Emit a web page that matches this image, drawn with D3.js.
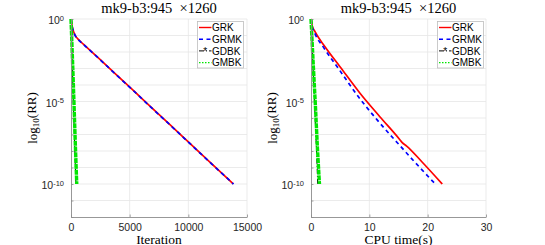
<!DOCTYPE html>
<html>
<head>
<meta charset="utf-8">
<script src="https://cdn.jsdelivr.net/npm/d3@7"></script>
<style>
body { margin: 0; background: #fff; }
.tick text { font-family: "Liberation Sans", Arial, sans-serif; font-size: 10.5px; fill: #262626; }
.ttl, .lbl { font-family: "Liberation Serif", "Times New Roman", serif; fill: #000; }
.leg text { font-family: "Liberation Sans", Arial, sans-serif; font-size: 10px; fill: #000; }
</style>
</head>
<body>
<svg id="chart" width="545" height="245"></svg>
<script>
//series names and titles
let names = ['GRK', 'GRMK', 'GDBK', 'GMBK'];
let titleText = 'mk9-b3:945\u00a0 \u00d71260';

//left panel: [iteration, log10(RR)]
let grkIter  = [[0,0],[60,-0.3],[150,-0.6],[340,-0.97],[600,-1.22],[1050,-1.52],[2470,-2.45],[3900,-3.4],[5310,-4.33],[6730,-5.28],[8500,-6.45],[10000,-7.45],[12000,-8.78],[13830,-10]];
let grmkIter = [[0,0],[60,-0.31],[150,-0.61],[340,-0.98],[600,-1.23],[1050,-1.53],[2470,-2.46],[3900,-3.41],[5310,-4.34],[6730,-5.29],[8500,-6.46],[10000,-7.46],[12000,-8.79],[13850,-10]];
let gdbkIter = [[0,0],[100,-2.5],[210,-5.3],[320,-7.8],[420,-10]];
let gmbkIter = [[0,0],[130,-2.5],[260,-5.2],[380,-7.8],[490,-10]];

//right panel: [CPU time (s), log10(RR)]
let grkTime  = [[0,0],[0.2,-0.4],[0.69,-0.77],[2.4,-1.68],[4.97,-2.89],[8.4,-4.5],[11.8,-5.92],[15.2,-7.3],[15.6,-7.48],[16.4,-7.7],[19,-8.65],[22.5,-10]];
let grmkTime = [[0,0],[0.2,-0.45],[0.7,-0.9],[2.3,-1.8],[4.8,-3.05],[8.1,-4.7],[11.3,-6.1],[14.8,-7.5],[18,-8.75],[21.3,-10]];
let gdbkTime = [[0,0],[0.3,-2.5],[0.65,-5.5],[0.95,-8],[1.15,-10]];
let gmbkTime = [[0,0],[0.35,-2.5],[0.75,-5.2],[1.1,-7.8],[1.45,-10]];

//axis ticks
let iterTicks = [0, 5000, 10000, 15000];
let timeTicks = [0, 10, 20, 30];
let yExp = [-12,-11,-10,-9,-8,-7,-6,-5,-4,-3,-2,-1,0];
let yLabelExp = [0, -5, -10];

//line styles
let styles = [
  {color:'#ff0000', width:1.7, dash:null},
  {color:'#0000ff', width:1.7, dash:'4,3.5'},
  {color:'#000000', width:1, dash:'5,2,1,2'},
  {color:'#00e600', width:3.4, dash:'5,0.8'}
];

let svg = d3.select('#chart');
let plotTop = 19, plotBottom = 217;

let drawPanel = function(px0, px1, xDomain, xTicks, xLabel, series, legX) {
  let x = d3.scaleLinear().domain(xDomain).range([px0, px1]);
  let y = d3.scaleLog().domain([1e-12, 1]).range([plotBottom, plotTop]);
  let g = svg.append('g');

  //grid
  g.append('g').selectAll('line').data(xTicks.slice(1)).join('line')
    .attr('x1', d => x(d)).attr('x2', d => x(d))
    .attr('y1', plotTop).attr('y2', plotBottom)
    .attr('stroke', '#e6e6e6').attr('stroke-width', 0.8);
  g.append('g').selectAll('line').data(yExp.slice(1)).join('line')
    .attr('x1', px0).attr('x2', px1)
    .attr('y1', d => y(Math.pow(10, d))).attr('y2', d => y(Math.pow(10, d)))
    .attr('stroke', '#e6e6e6').attr('stroke-width', 0.8);

  //lines
  series.forEach(function(s, i) {
    let line = d3.line()
      .x(d => x(d[0]))
      .y(d => y(Math.pow(10, d[1])))
      .curve(i < 2 ? d3.curveMonotoneX : d3.curveLinear);
    g.append('path')
      .datum(s)
      .attr('fill', 'none')
      .attr('stroke', styles[i].color)
      .attr('stroke-width', styles[i].width)
      .attr('stroke-dasharray', styles[i].dash)
      .attr('d', line);
  });

  //axes
  let xAxis = d3.axisBottom(x).tickValues(xTicks).tickSize(-2.5).tickSizeOuter(0).tickPadding(6.5).tickFormat(d3.format('d'));
  let gx = g.append('g').attr('transform', 'translate(0,' + plotBottom + ')').call(xAxis);
  let yAxis = d3.axisLeft(y).tickValues(yExp.map(e => Math.pow(10, e))).tickSize(-2.5).tickSizeOuter(0).tickPadding(7);
  let gy = g.append('g').attr('transform', 'translate(' + px0 + ',0)').call(yAxis);
  [gx, gy].forEach(function(a) {
    a.select('.domain').attr('stroke', '#8c8c8c').attr('stroke-width', 0.9);
    a.selectAll('.tick line').attr('stroke', '#8c8c8c').attr('stroke-width', 0.8);
  });
  gy.selectAll('.tick text').each(function(d) {
    let e = Math.round(Math.log10(d));
    let t = d3.select(this).text('').attr('dy', '0.45em');
    if (yLabelExp.indexOf(e) < 0) return;
    t.append('tspan').text('10');
    t.append('tspan').attr('dy', '-0.45em').attr('font-size', '7.5px').text(String(e));
  });

  //title and labels
  let cx = (px0 + px1) / 2;
  g.append('text').attr('class', 'ttl').attr('x', cx).attr('y', 13)
    .attr('text-anchor', 'middle').attr('font-size', '14.5px').text(titleText);
  g.append('text').attr('class', 'lbl').attr('x', cx).attr('y', 243.5)
    .attr('text-anchor', 'middle').attr('font-size', '13.5px').text(xLabel);
  let yl = g.append('text').attr('class', 'lbl')
    .attr('transform', 'translate(' + (px0 - 34) + ',' + ((plotTop + plotBottom) / 2) + ') rotate(-90)')
    .attr('text-anchor', 'middle').attr('font-size', '13px');
  yl.append('tspan').text('log');
  yl.append('tspan').attr('font-size', '9px').attr('dy', '0.25em').text('10');
  yl.append('tspan').attr('dy', '-0.25em').text('(RR)');

  //legend
  let leg = g.append('g').attr('class', 'leg').attr('transform', 'translate(' + legX + ',21.5)');
  leg.append('rect').attr('width', 46).attr('height', 46.5)
    .attr('fill', '#fff').attr('stroke', '#bdbdbd').attr('stroke-width', 0.8);
  names.forEach(function(n, i) {
    let ly = 6 + i * 11.7;
    leg.append('line').attr('x1', 1.5).attr('x2', 14).attr('y1', ly).attr('y2', ly)
      .attr('stroke', styles[i].color)
      .attr('stroke-width', Math.min(styles[i].width, 1.4))
      .attr('stroke-dasharray', i === 3 ? '1.5,1.5' : styles[i].dash);
    if (i === 2) {
      leg.append('text').attr('x', 7.7).attr('y', ly + 4).attr('text-anchor', 'middle')
        .attr('font-size', '7px').text('*');
    }
    leg.append('text').attr('x', 14.5).attr('y', ly + 3.6).text(n);
  });
};

drawPanel(71, 247, [0, 15000], iterTicks, 'Iteration', [grkIter, grmkIter, gdbkIter, gmbkIter], 197.5);
drawPanel(311, 486, [0, 30], timeTicks, 'CPU time(s)', [grkTime, grmkTime, gdbkTime, gmbkTime], 437.5);
</script>
</body>
</html>
